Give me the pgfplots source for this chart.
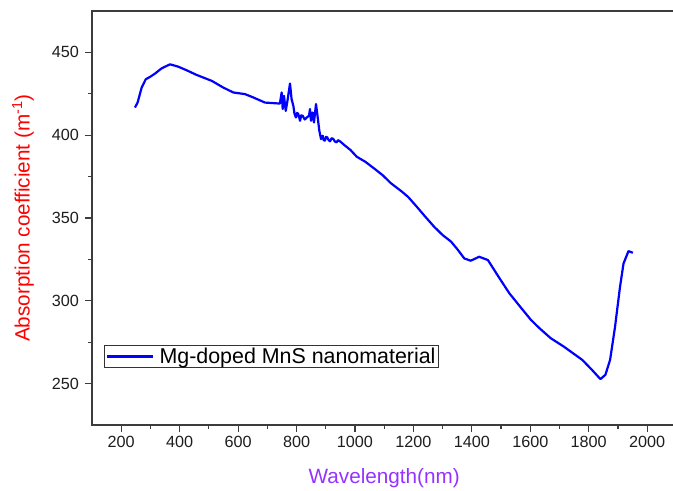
\documentclass[border=0pt]{standalone}
\usepackage{fontspec}
\setmainfont{Liberation Sans}
\usepackage{pgfplots}
\pgfplotsset{compat=1.18}
\definecolor{linblue}{RGB}{0,0,255}
\definecolor{xlab}{RGB}{150,50,255}
\definecolor{ylab}{RGB}{255,0,0}
\definecolor{axgray}{RGB}{60,60,60}
\definecolor{tickcol}{RGB}{30,30,30}
\begin{document}
\begin{tikzpicture}
\begin{axis}[
  scale only axis,
  width=584.4bp, height=414bp,
  xmin=100, xmax=2100, ymin=225, ymax=475,
  xtick={200,400,...,2000},
  ytick={250,300,...,450},
  minor x tick num=1, minor y tick num=1,
  tick pos=left,
  tick align=outside,
  major tick length=7bp, minor tick length=4bp,
  every tick/.style={axgray, line width=1.2bp},
  axis line style={axgray, line width=1.5bp},
  /pgf/number format/assume math mode=true,
  /pgf/number format/1000 sep={},
  ticklabel style={font=\fontsize{16.2bp}{18bp}\selectfont, text=tickcol},
  xticklabel style={yshift=-1bp},
  yticklabel style={xshift=-2.5bp},
  xlabel={Wavelength(nm)},
  ylabel={Absorption coefficient (m\textsuperscript{-1})},
  every axis x label/.style={font=\fontsize{20.7bp}{24bp}\selectfont, text=xlab, at={(axis description cs:0.5,0)}, anchor=center, yshift=-53bp},
  every axis y label/.style={font=\fontsize{20.7bp}{24bp}\selectfont, text=ylab, at={(axis description cs:0,0.5)}, anchor=center, rotate=90, yshift=69bp},
  legend style={at={(axis description cs:0.0205,0.1377)}, anchor=south west, draw=black!80, line width=0.8bp, fill=white, inner xsep=1.5bp, inner ysep=1bp, font=\fontsize{21.4bp}{24bp}\selectfont, nodes={inner sep=1.5bp}},
  legend cell align=left,
  legend image code/.code={\draw[#1, line width=2.2bp] (0bp,0bp) -- (46bp,0bp); \path (50bp,0bp);},
]
\addplot[linblue, line width=2.2bp, line join=round] coordinates {
(247,416.7)(256,419.7)(270,428.8)(284,433.8)(298.5,435.2)(315.6,437.2)(338.5,440.4)(367,442.8)(395,441.4)(424,439.2)(458,436.4)(510,432.8)(549,428.8)(583.5,425.8)(623.6,424.8)(652,422.8)(692,419.7)(743,419.1)
(749,425.8)(752.6,415.8)(757,423.8)(763,414.7)(768,419.7)(777.6,431.2)(783,421.8)(789,417.8)(793,413)(798,410.7)(802,413.5)(806,412.8)(812,408.7)(816,412)(821,411.7)(828,409.5)(835,410.7)(842.6,411.7)(846,415.8)(849.5,408.7)(855,413.7)(859.7,407.7)(866.6,418.8)(871,412.8)(878,402.7)(883.7,397.7)(889.5,399.7)(893,397)(897,396.7)(901,399)(905,398.7)(910,397)(914.5,396.3)(920,398.2)(926,397.7)(931,396.2)(937,395.7)(942,397)(948.7,396.3)
(964,394)(985,391)(1006,387)(1035,384)(1065,380)(1095,375.8)(1123,371)(1160,366)(1182,362.7)(1212,356.7)(1241,350.7)(1271,344.7)(1300,339.7)(1329,335.7)(1351,331)(1374,325.6)(1396,324.2)(1425,326.6)(1455,324.6)(1491,314.6)(1528,304.6)(1565,296.5)(1602,288.5)(1631,283.5)
(1670,277.4)(1715,272.3)(1778,264.3)(1811,258.3)(1840,252.7)(1857,255.3)(1873,264.3)(1890,284.3)(1907,308.4)(1919,322.5)(1936,330)(1951,329)
};
\addlegendentry{Mg-doped MnS nanomaterial}
\coordinate (SW) at (rel axis cs:0,0);
\end{axis}
\pgfresetboundingbox
\path[use as bounding box] (SW) ++(-92bp,-66bp) rectangle ++(673bp,491bp);
\end{tikzpicture}
\end{document}
